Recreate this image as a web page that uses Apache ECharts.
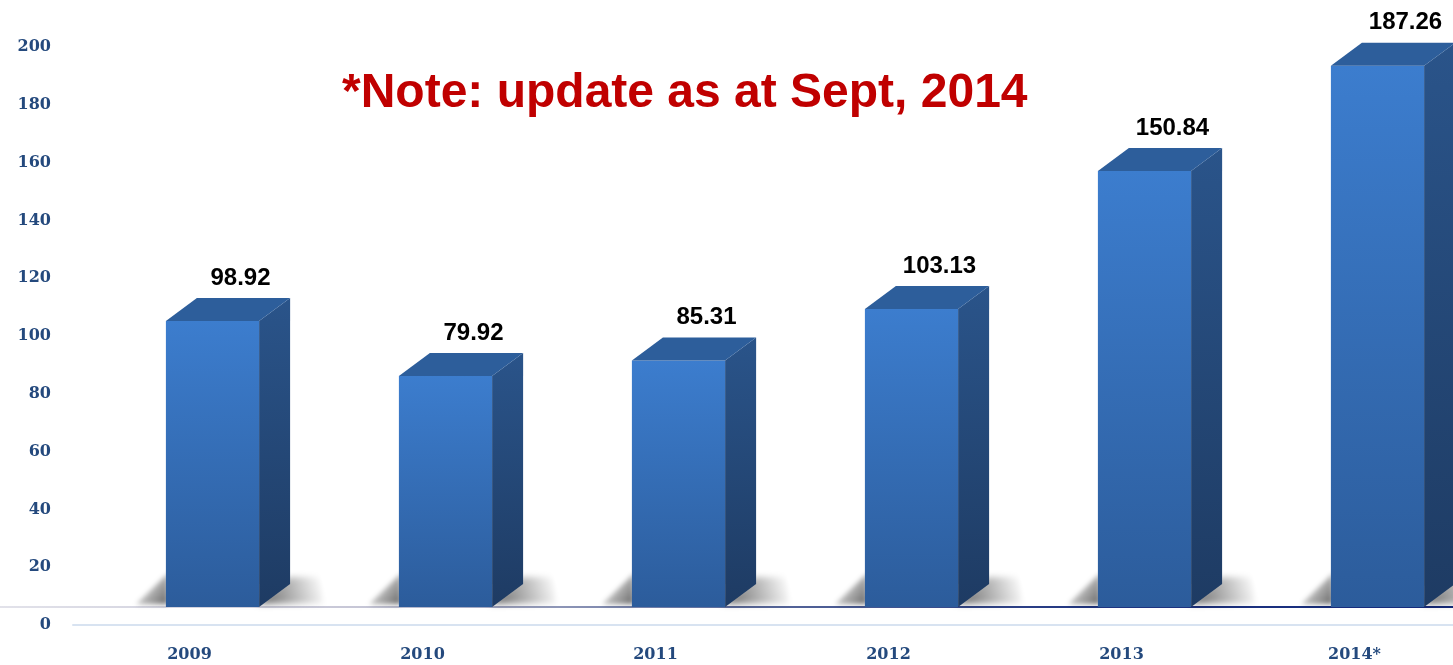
<!DOCTYPE html>
<html>
<head>
<meta charset="utf-8">
<script src="https://cdn.jsdelivr.net/npm/echarts@6/dist/echarts.min.js"></script>
<style>
  html, body { margin: 0; padding: 0; background: #fff; }
  #chart { width: 1453px; height: 665px; }
</style>
</head>
<body>
<div id="chart"></div>
<script>
// chart data
var years = ['2009', '2010', '2011', '2012', '2013', '2014*']
var amounts = [98.92, 79.92, 85.31, 103.13, 150.84, 187.26]
var yTicks = [0, 20, 40, 60, 80, 100, 120, 140, 160, 180, 200]
var noteText = '*Note: update as at Sept, 2014'

// box depth in px (the fake 3d look)
var DX = 31
var DY = 23
// shadows are drawn off screen and only their blurred shadow is moved back in
var FAR = 3000

var chart = echarts.init(document.getElementById('chart'), null, { renderer: 'canvas' })

function softShadow (points, grad, blur, color) {
  return {
    type: 'polygon',
    shape: { points: points.map(function (p) { return [p[0] - FAR, p[1]] }) },
    style: {
      fill: new echarts.graphic.LinearGradient(grad[0], grad[1], grad[2], grad[3], [
        { offset: 0, color: 'rgba(0,0,0,1)' },
        { offset: 1, color: 'rgba(0,0,0,0)' }
      ]),
      shadowBlur: blur,
      shadowColor: color,
      shadowOffsetX: FAR,
      shadowOffsetY: 0
    },
    silent: true
  }
}

function renderBox (params, api) {
  var idx = api.value(0)
  var top = api.coord([idx, api.value(1)])
  var base = api.coord([idx, 0])
  var w = api.size([1, 0])[0] * 0.4
  var xl = top[0] - w / 2
  var xr = top[0] + w / 2
  var yt = top[1]
  var b = base[1]

  var shadowR = softShadow(
    [[xr - 2, b - 3], [xr + DX, b - DY - 7], [xr + DX + 34, b - DY - 7], [xr + DX + 34, b - 4]],
    [0, 1, 1, 0.3], 6, 'rgba(0,0,0,0.62)'
  )
  var shadowL = softShadow(
    [[xl + 2, b - 34], [xl + 2, b - 3], [xl - 30, b - 3]],
    [1, 1, 0, 0.2], 5, 'rgba(0,0,0,0.6)'
  )
  var front = {
    type: 'rect',
    shape: { x: xl, y: yt, width: w, height: b - yt },
    style: {
      fill: new echarts.graphic.LinearGradient(0, 0, 0, 1, [
        { offset: 0, color: '#3c7dce' },
        { offset: 1, color: '#2c5c9b' }
      ])
    }
  }
  var side = {
    type: 'polygon',
    shape: { points: [[xr, yt], [xr + DX, yt - DY], [xr + DX, b - DY], [xr, b]] },
    style: {
      fill: new echarts.graphic.LinearGradient(0, 0, 0, 1, [
        { offset: 0, color: '#2a548a' },
        { offset: 1, color: '#1e3b63' }
      ])
    }
  }
  var topFace = {
    type: 'polygon',
    shape: { points: [[xl, yt], [xl + DX, yt - DY], [xr + DX, yt - DY], [xr, yt]] },
    style: { fill: '#2d5e9b' }
  }
  var label = {
    type: 'text',
    style: {
      text: amounts[idx].toFixed(2),
      x: top[0] + 28,
      y: yt - DY - 8,
      align: 'center',
      verticalAlign: 'bottom',
      fontFamily: 'Liberation Sans',
      fontWeight: 'bold',
      fontSize: 24,
      fill: '#000'
    }
  }
  return { type: 'group', children: [shadowR, shadowL, front, side, topFace, label] }
}

var axisFont = {
  fontFamily: 'DejaVu Serif',
  fontWeight: 'bold',
  fontSize: 16,
  color: '#24497d'
}

var option = {
  animation: false,
  title: {
    text: noteText,
    left: 337,
    top: 65,
    textStyle: {
      fontFamily: 'Liberation Sans',
      fontWeight: 'bold',
      fontSize: 48,
      color: '#c00000'
    }
  },
  grid: [
    // axes grid (labels)
    { left: 73, width: 1398, top: 47, height: 578, outerBoundsMode: 'none' },
    // boxes grid, sits a bit higher and to the right like the original slide
    { left: 96, width: 1398, top: 29, height: 578, outerBoundsMode: 'none' },
    // full width floor line under the boxes
    { left: 0, right: 0, top: 29, height: 578, outerBoundsMode: 'none' }
  ],
  xAxis: [
    {
      type: 'category',
      gridIndex: 0,
      data: years,
      axisLine: { lineStyle: { color: '#d8e3f1', width: 2 } },
      axisTick: { show: false },
      axisLabel: Object.assign({ margin: 22 }, axisFont)
    },
    {
      type: 'category',
      gridIndex: 1,
      data: years,
      axisLine: { show: false },
      axisTick: { show: false },
      axisLabel: { show: false }
    },
    {
      type: 'value',
      gridIndex: 2,
      axisTick: { show: false },
      axisLabel: { show: false },
      splitLine: { show: false },
      axisLine: {
        lineStyle: {
          width: 2,
          color: new echarts.graphic.LinearGradient(0, 0, 1, 0, [
            { offset: 0, color: '#e2e2ea' },
            { offset: 0.25, color: '#c6c6d6' },
            { offset: 0.5, color: '#5d6c9c' },
            { offset: 0.75, color: '#203581' },
            { offset: 1, color: '#142a7c' }
          ])
        }
      }
    }
  ],
  yAxis: [
    {
      type: 'value',
      gridIndex: 0,
      min: yTicks[0],
      max: yTicks[yTicks.length - 1],
      interval: 20,
      axisLine: { show: false },
      axisTick: { show: false },
      splitLine: { show: false },
      axisLabel: Object.assign({ margin: 22 }, axisFont)
    },
    { type: 'value', gridIndex: 1, min: 0, max: 200, show: false },
    { type: 'value', gridIndex: 2, min: 0, max: 200, show: false }
  ],
  series: [
    {
      type: 'custom',
      name: 'amount',
      xAxisIndex: 1,
      yAxisIndex: 1,
      data: years.map(function (y, i) { return [i, amounts[i]] }),
      encode: { x: 0, y: 1 },
      renderItem: renderBox
    }
  ]
}

chart.setOption(option)
</script>
</body>
</html>
